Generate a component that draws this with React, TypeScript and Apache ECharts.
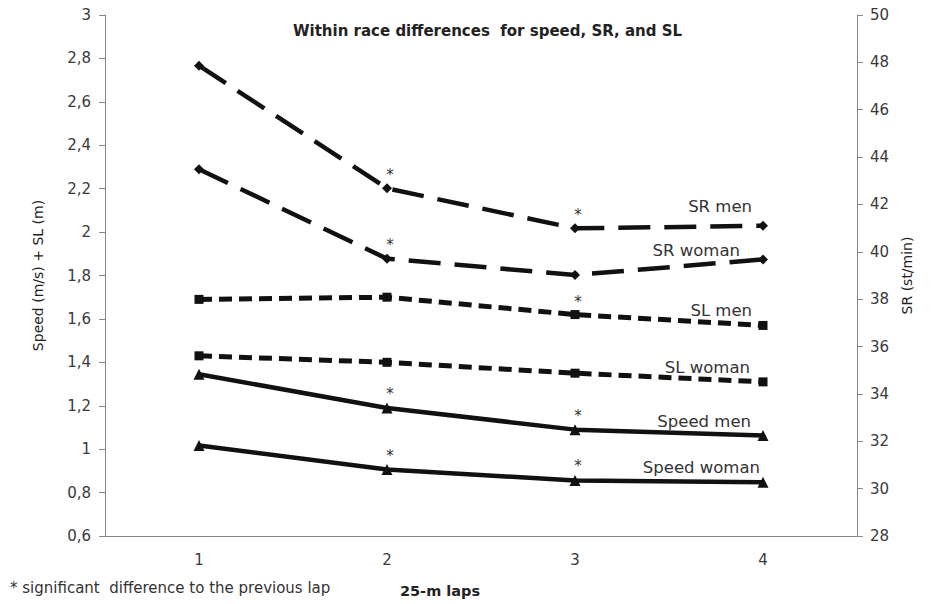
import React, { useEffect, useRef } from "react";
import * as echarts from "echarts";

const laps = ["1", "2", "3", "4"];
const leftTicks = { min: 0.6, max: 3, interval: 0.2 };
const rightTicks = { min: 28, max: 50, interval: 2 };

const srMen = [47.86, 42.68, 40.99, 41.1];
const srWoman = [43.49, 39.71, 39.02, 39.68];
const slMen = [1.69, 1.7, 1.62, 1.57];
const slWoman = [1.43, 1.4, 1.35, 1.31];
const speedMen = [1.345, 1.19, 1.09, 1.063];
const speedWoman = [1.017, 0.906, 0.856, 0.848];

const srMenSig = [false, true, true, false];
const srWomanSig = [false, true, false, false];
const slMenSig = [false, false, true, false];
const slWomanSig = [false, false, false, false];
const speedMenSig = [false, true, true, false];
const speedWomanSig = [false, true, true, false];

const FONT = "DejaVu Sans";
const INK = "#111";

function mkData(vals: number[], sig: boolean[]) {
  return vals.map((v, i) => ({ value: v, label: { show: sig[i] } }));
}

function mkSeries(
  name: string,
  vals: number[],
  sig: boolean[],
  yAxisIndex: number,
  lineType: any,
  width: number,
  symbol: string,
  symbolSize: number
) {
  return {
    name,
    type: "line",
    yAxisIndex,
    data: mkData(vals, sig),
    symbol,
    symbolSize,
    showSymbol: true,
    lineStyle: { color: INK, width, type: lineType },
    itemStyle: { color: INK },
    label: {
      show: false,
      position: "top",
      distance: 1,
      offset: [3, 0],
      formatter: "*",
      fontFamily: FONT,
      fontSize: 15,
      color: "#333",
    },
  };
}

export default function App() {
  const ref = useRef<HTMLDivElement>(null);
  useEffect(() => {
    document.body.style.margin = "0";
    const chart = echarts.init(ref.current!, undefined, { renderer: "svg" });
    const axisLabelStyle = { fontFamily: FONT, fontSize: 15, color: "#3a3a3a" };
    const lineLabel = (text: string, x: number, y: number) => ({
      type: "text",
      x,
      y,
      style: {
        text,
        fill: "#333",
        font: `16.5px "${FONT}"`,
        align: "right",
        verticalAlign: "middle",
      },
    });
    chart.setOption({
      animation: false,
      backgroundColor: "#fff",
      title: {
        text: "Within race differences  for speed, SR, and SL",
        left: 293,
        top: 23,
        padding: 0,
        textStyle: { fontFamily: FONT, fontSize: 15, fontWeight: "bold", color: "#222" },
      },
      grid: { left: 105, right: 76, top: 15, bottom: 68 },
      xAxis: {
        type: "category",
        data: laps,
        boundaryGap: true,
        axisLine: { lineStyle: { color: "#888", width: 1 } },
        axisTick: { alignWithLabel: true, length: 5, lineStyle: { color: "#888" } },
        axisLabel: { ...axisLabelStyle, margin: 16 },
      },
      yAxis: [
        {
          type: "value",
          ...leftTicks,
          name: "Speed (m/s) + SL (m)",
          nameLocation: "middle",
          nameGap: 60,
          nameTextStyle: { fontFamily: FONT, fontSize: 14, color: "#222" },
          splitLine: { show: false },
          axisLine: { show: true, lineStyle: { color: "#888" } },
          axisTick: { show: true, length: 6, lineStyle: { color: "#888" } },
          axisLabel: {
            ...axisLabelStyle,
            margin: 14,
            formatter: (v: number) => String(+v.toFixed(1)).replace(".", ","),
          },
        },
        {
          type: "value",
          ...rightTicks,
          position: "right",
          name: "SR (st/min)",
          nameLocation: "middle",
          nameGap: 37,
          nameTextStyle: { fontFamily: FONT, fontSize: 14, color: "#222" },
          splitLine: { show: false },
          axisLine: { show: true, lineStyle: { color: "#888" } },
          axisTick: { show: true, length: 6, lineStyle: { color: "#888" } },
          axisLabel: { ...axisLabelStyle, margin: 13 },
        },
      ],
      series: [
        mkSeries("SR men", srMen, srMenSig, 1, [32, 14], 4.5, "diamond", 10),
        mkSeries("SR woman", srWoman, srWomanSig, 1, [32, 14], 4.5, "diamond", 10),
        mkSeries("SL men", slMen, slMenSig, 0, [13, 7], 5, "rect", 9),
        mkSeries("SL woman", slWoman, slWomanSig, 0, [13, 7], 5, "rect", 9),
        mkSeries("Speed men", speedMen, speedMenSig, 0, "solid", 4.5, "triangle", 11),
        mkSeries("Speed woman", speedWoman, speedWomanSig, 0, "solid", 4.5, "triangle", 11),
      ],
      graphic: [
        lineLabel("SR men", 752, 206),
        lineLabel("SR woman", 740, 250),
        lineLabel("SL men", 752, 310),
        lineLabel("SL woman", 750, 367),
        lineLabel("Speed men", 751, 421),
        lineLabel("Speed woman", 760, 467),
        {
          type: "text",
          x: 10,
          y: 588,
          style: {
            text: "* significant  difference to the previous lap",
            fill: "#333",
            font: `15px "${FONT}"`,
            align: "left",
            verticalAlign: "middle",
          },
        },
        {
          type: "text",
          x: 440,
          y: 591,
          style: {
            text: "25-m laps",
            fill: "#222",
            font: `bold 14.5px "${FONT}"`,
            align: "center",
            verticalAlign: "middle",
          },
        },
      ],
    });
    return () => chart.dispose();
  }, []);
  return <div ref={ref} style={{ width: 933, height: 604 }} />;
}
